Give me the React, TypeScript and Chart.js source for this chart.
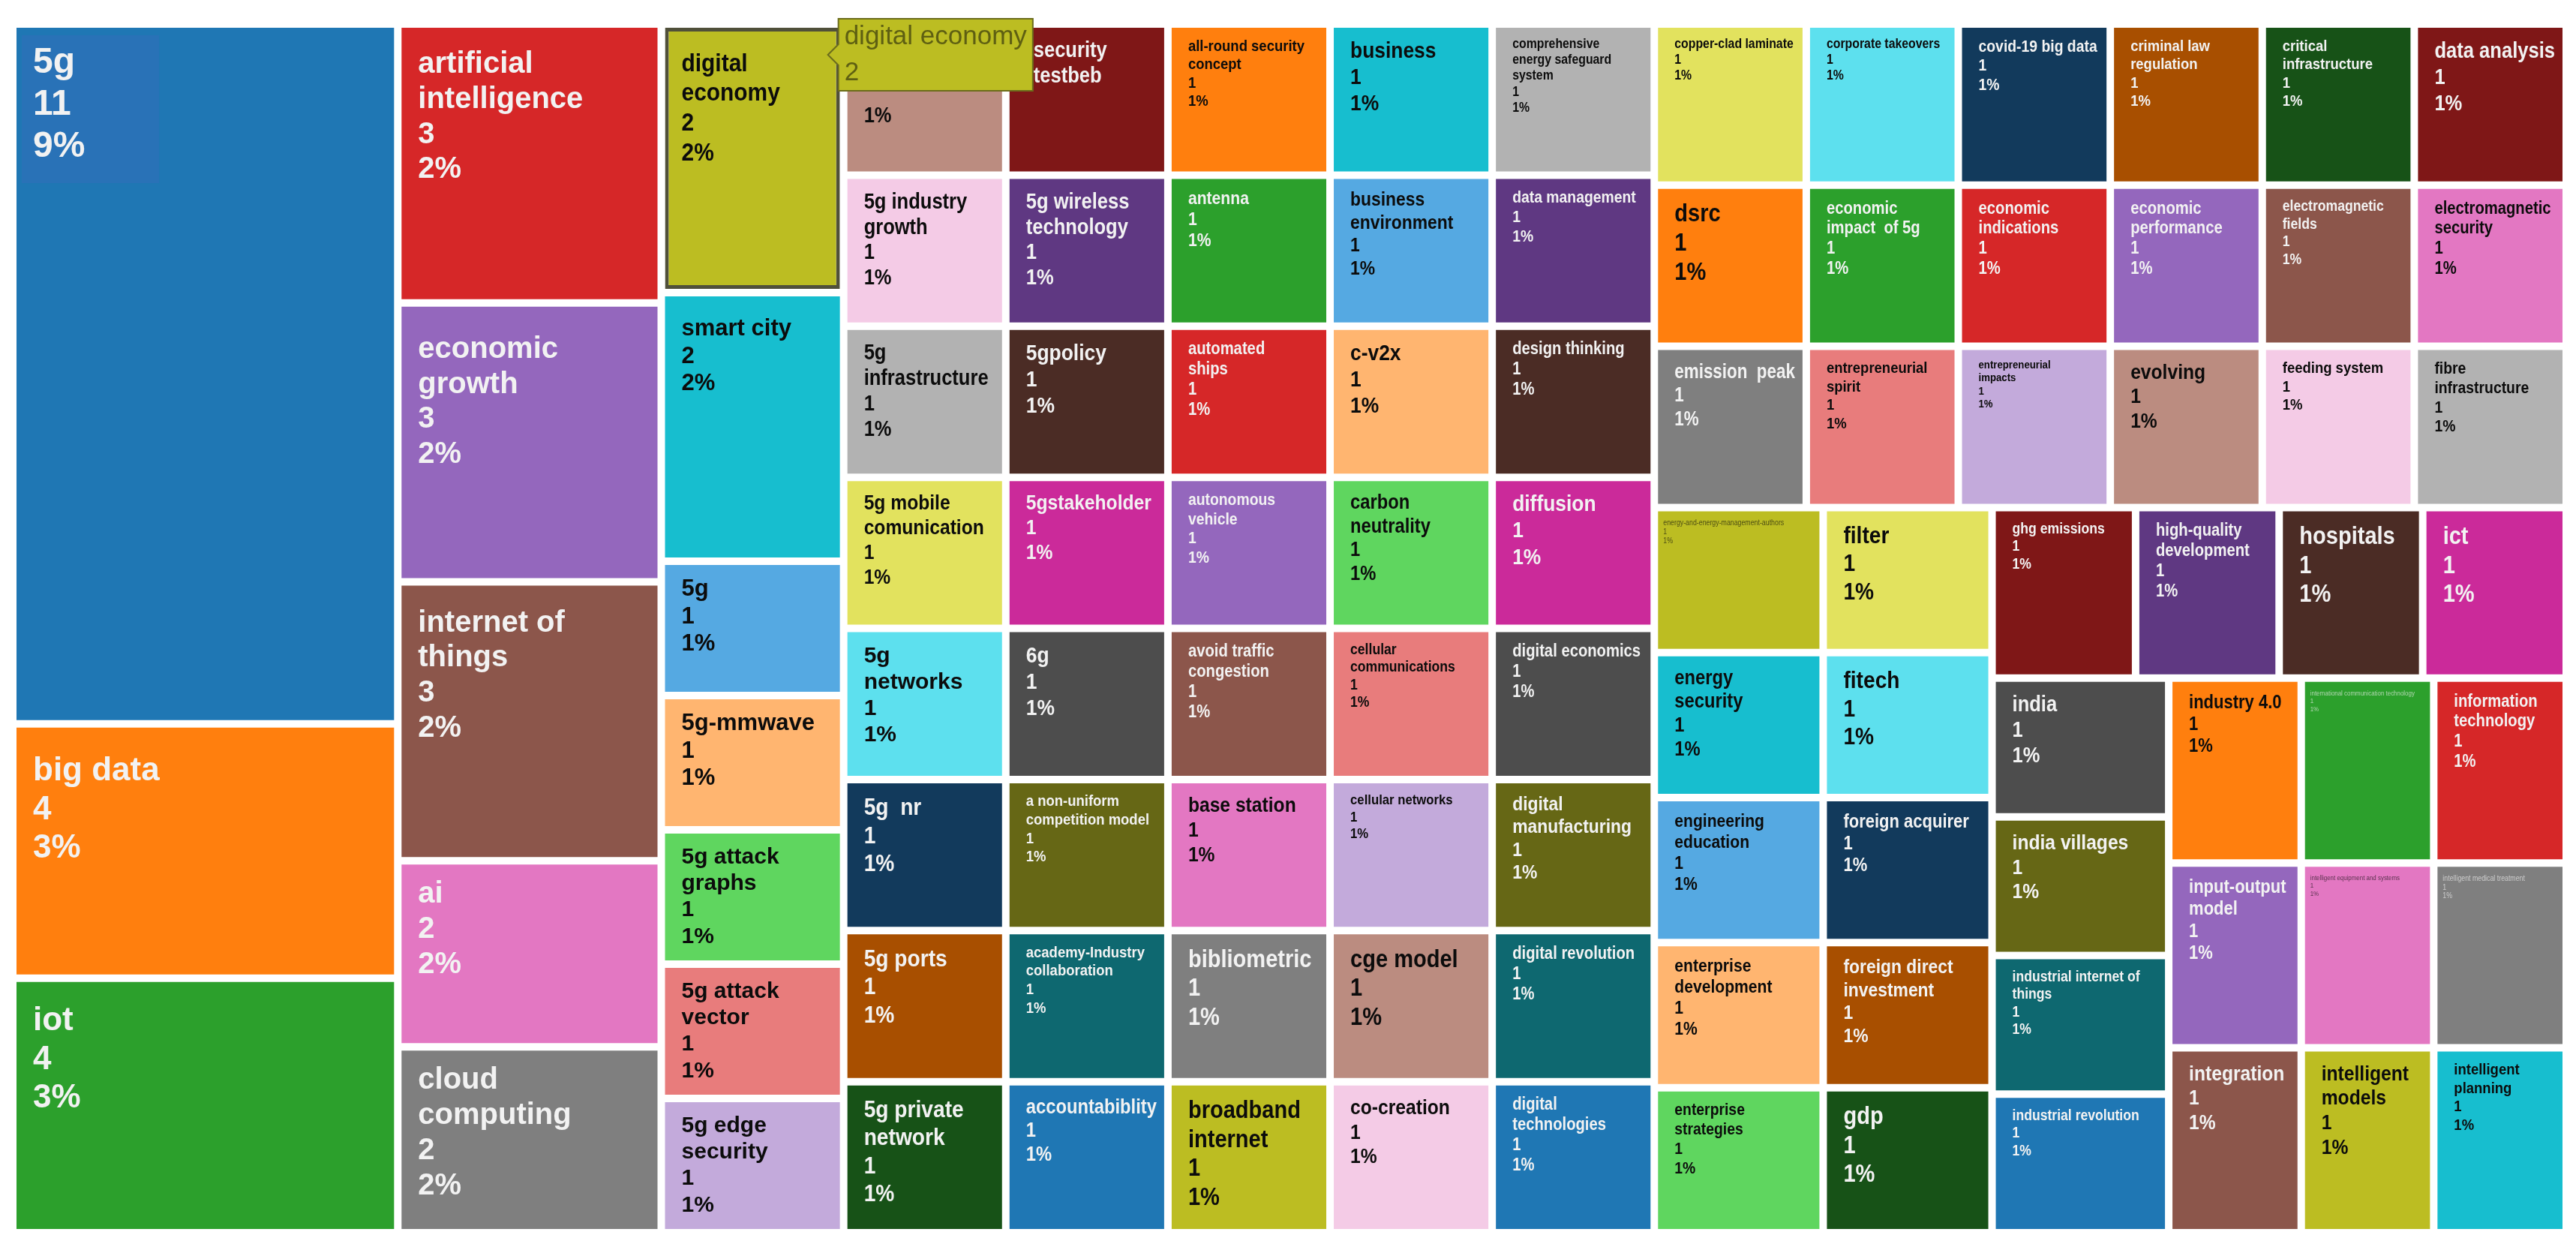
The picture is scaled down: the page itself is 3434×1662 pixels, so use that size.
import { useEffect, useRef } from "react";
import { Chart, DatasetController, Tooltip, registerables } from "chart.js";

// "\n" marks where the label breaks inside its cell
const categories = [
  "5g", "big data", "iot", "artificial\nintelligence", "economic\ngrowth", "internet of\nthings", "ai", "cloud\ncomputing",
  "digital\neconomy", "smart city", "5g", "5g-mmwave", "5g attack\ngraphs", "5g attack\nvector", "5g edge\nsecurity",
  "", "5g industry\ngrowth", "5g\ninfrastructure", "5g mobile\ncomunication", "5g\nnetworks", "5g  nr",
  "5g ports", "5g private\nnetwork", "security\ntestbeb", "5g wireless\ntechnology", "5gpolicy", "5gstakeholder", "6g",
  "a non-uniform\ncompetition model", "academy-Industry\ncollaboration", "accountabiblity", "all-round security\nconcept",
  "antenna", "automated\nships", "autonomous\nvehicle", "avoid traffic\ncongestion", "base station", "bibliometric",
  "broadband\ninternet", "business", "business\nenvironment", "c-v2x", "carbon\nneutrality", "cellular\ncommunications",
  "cellular networks", "cge model", "co-creation", "comprehensive\nenergy safeguard\nsystem", "copper-clad laminate",
  "corporate takeovers", "covid-19 big data", "criminal law\nregulation", "critical\ninfrastructure", "data analysis",
  "data management", "design thinking", "diffusion", "digital economics", "digital\nmanufacturing", "digital revolution",
  "digital\ntechnologies", "dsrc", "economic\nimpact  of 5g", "economic\nindications", "economic\nperformance",
  "electromagnetic\nfields", "electromagnetic\nsecurity", "emission  peak", "energy-and-energy-management-authors",
  "energy\nsecurity", "engineering\neducation", "enterprise\ndevelopment", "enterprise\nstrategies",
  "entrepreneurial\nspirit", "entrepreneurial\nimpacts", "evolving", "feeding system", "fibre\ninfrastructure", "filter",
  "fitech", "foreign acquirer", "foreign direct\ninvestment", "gdp", "ghg emissions", "high-quality\ndevelopment",
  "hospitals", "ict", "india", "india villages", "industrial internet of\nthings", "industrial revolution",
  "industry 4.0", "international communication technology", "information\ntechnology", "input-output\nmodel",
  "integration", "intelligent equipment and systems", "intelligent medical treatment", "intelligent\nmodels",
  "intelligent\nplanning",
];

const values = [
  11, 4, 4, 3, 3, 3, 2, 2, 2, 2,
  1, 1, 1, 1, 1, 1, 1, 1, 1, 1,
  1, 1, 1, 1, 1, 1, 1, 1, 1, 1,
  1, 1, 1, 1, 1, 1, 1, 1, 1, 1,
  1, 1, 1, 1, 1, 1, 1, 1, 1, 1,
  1, 1, 1, 1, 1, 1, 1, 1, 1, 1,
  1, 1, 1, 1, 1, 1, 1, 1, 1, 1,
  1, 1, 1, 1, 1, 1, 1, 1, 1, 1,
  1, 1, 1, 1, 1, 1, 1, 1, 1, 1,
  1, 1, 1, 1, 1, 1, 1, 1, 1, 1,
];

// how the treemap was sliced: each strip takes its share off the remaining space
const stripKinds = ["col", "col", "col", "col", "col", "col", "col", "col", "row", "row", "row", "col", "col", "row", "col", "row", "row", "row"];
const stripMembers = [
  [0, 1, 2],
  [3, 4, 5, 6, 7],
  [8, 9, 10, 11, 12, 13, 14],
  [15, 16, 17, 18, 19, 20, 21, 22],
  [23, 24, 25, 26, 27, 28, 29, 30],
  [31, 32, 33, 34, 35, 36, 37, 38],
  [39, 40, 41, 42, 43, 44, 45, 46],
  [47, 54, 55, 56, 57, 58, 59, 60],
  [48, 49, 50, 51, 52, 53],
  [61, 62, 63, 64, 65, 66],
  [67, 73, 74, 75, 76, 77],
  [68, 69, 70, 71, 72],
  [78, 79, 80, 81, 82],
  [83, 84, 85, 86],
  [87, 88, 89, 90],
  [91, 92, 93],
  [94, 96, 97],
  [95, 98, 99],
];

const palette = [
  "#1f77b4", "#ff7f0e", "#2ca02c", "#d62728", "#9467bd", "#8c564b", "#e377c2", "#7f7f7f", "#bcbd22", "#17becf",
  "#55a9e2", "#ffb570", "#5fd65f", "#e87c7c", "#c3aadb", "#bb8c80", "#f4cbe6", "#b2b2b2", "#e2e25e", "#5de0ee",
  "#123a5c", "#a84f00", "#175217", "#7f1717", "#5f3882", "#4b2c25", "#cb2a9a", "#4d4d4d", "#666715", "#0e6870",
];
const darkTextColors = [1, 6, 8, 9, 10, 11, 12, 13, 14, 15, 16, 17, 18, 19];
const whiteTextCells = [1, 6, 56, 86];

const labelSizes = [
  48, 44, 44, 40, 40, 40, 40, 40, 34, 31,
  31, 31, 30, 30, 30, 29, 29, 29, 28, 30,
  32, 32, 32, 29, 29, 30, 28, 30, 21, 21,
  27, 21, 24, 23, 22, 23, 28, 33, 33, 30,
  26, 30, 27, 20, 19, 33, 28, 18, 18, 18,
  22, 21, 21, 30, 22, 23, 30, 23, 26, 23,
  23, 33, 23, 23, 23, 20, 23, 27, 10, 27,
  24, 24, 22, 21, 15, 28, 21, 22, 32, 32,
  25, 26, 33, 20, 23, 33, 33, 29, 28, 20,
  20, 25, 9, 23, 25, 28, 9, 10, 28, 21,
];
// extra vertical shift of a label, cell index -> px
const labelNudges: Record<number, number> = { 1: 15, 2: 9, 3: 9, 4: 17, 5: 10, 8: 13, 9: 11, 15: 19 };
// labels drawn at full width, the rest are a little condensed
const fullWidthCells = [9, 10, 11, 12, 13, 14, 19];
// the tooltip hides these in the reference
const noValueLine = [15, 23];
const noPercentLine = [23];

const activeCategory = 8;
const FONT = "'Liberation Sans', Arial, sans-serif";
const cellGap = 10;

const total = values.reduce((a, b) => a + b, 0);
const names = categories.map((c) => c.replace(/\n/g, " "));

function sliceCells() {
  const cells: { x0: number; x1: number; y0: number; y1: number }[] = [];
  let left = 0;
  let top = 0;
  stripKinds.forEach((kind, s) => {
    const members = stripMembers[s];
    const sum = members.reduce((a, i) => a + values[i], 0);
    const w = total - left;
    const h = 1 - top;
    if (kind === "col") {
      const stripW = sum / h;
      let y = top;
      members.forEach((i) => {
        const cellH = values[i] / stripW;
        cells[i] = { x0: left, x1: left + stripW, y0: y, y1: y + cellH };
        y += cellH;
      });
      left += stripW;
    } else {
      const stripH = sum / w;
      let x = left;
      members.forEach((i) => {
        const cellW = values[i] / stripH;
        cells[i] = { x0: x, x1: x + cellW, y0: top, y1: top + stripH };
        x += cellW;
      });
      top += stripH;
    }
  });
  return cells;
}

class TreemapController extends DatasetController {
  static id = "treemapSlices";
  static defaults = { dataElementType: "bar", datasetElementType: false };

  parse(start: number, count: number) {
    const meta = (this as any)._cachedMeta;
    for (let i = start; i < start + count; i++) {
      meta._parsed[i] = { x: i, y: values[i] };
    }
  }

  getLabelAndValue(index: number) {
    return { label: names[index], value: String(values[index]) };
  }

  update(mode: any) {
    const meta = (this as any)._cachedMeta;
    const { xScale, yScale } = meta;
    const cells = sliceCells();
    meta.data.forEach((el: any, i: number) => {
      const left = xScale.getPixelForValue(cells[i].x0) + cellGap / 2;
      const right = xScale.getPixelForValue(cells[i].x1) - cellGap / 2;
      const top = yScale.getPixelForValue(cells[i].y0) + cellGap / 2;
      const bottom = yScale.getPixelForValue(cells[i].y1) - cellGap / 2;
      this.updateElement(
        el,
        i,
        {
          x: (left + right) / 2,
          y: top,
          base: bottom,
          width: right - left,
          height: bottom - top,
          horizontal: false,
          borderSkipped: {},
          inflateAmount: 0,
          options: this.resolveDataElementOptions(i, mode),
        } as any,
        mode,
      );
    });
  }

  draw() {
    super.draw();
    const ctx = (this as any)._ctx as CanvasRenderingContext2D;
    const meta = (this as any)._cachedMeta;
    ctx.save();
    // the faint patch behind the first label
    const first = meta.data[0];
    ctx.fillStyle = "rgba(70,100,190,0.25)";
    ctx.fillRect(first.x - first.width / 2 + 7, first.y + 10, 183, 197);

    ctx.textBaseline = "middle";
    meta.data.forEach((el: any, i: number) => {
      const size = labelSizes[i];
      const colorIdx = i % palette.length;
      const tiny = size <= 12;
      ctx.font = `${tiny ? "normal" : "bold"} ${size}px ${FONT}`;
      ctx.fillStyle = darkTextColors.includes(colorIdx) && !whiteTextCells.includes(i) ? "#0c0c0c" : "#f2f2f2";
      if (tiny) ctx.globalAlpha = 0.65;

      const lines = categories[i].split("\n");
      lines.push(noValueLine.includes(i) ? "" : String(values[i]));
      lines.push(noPercentLine.includes(i) ? "" : `${Math.round((values[i] / total) * 100)}%`);

      const padX = tiny ? 7 : i === 23 ? 32 : 22;
      const widest = Math.max(...lines.map((l) => ctx.measureText(l).width));
      const base = size >= 40 || fullWidthCells.includes(i) ? 1 : 0.88;
      const squeeze = Math.min(base, (el.width - padX - 10) / widest);
      const left = el.x - el.width / 2 + padX;
      const startY = el.y + 8 + 0.8 * size + (labelNudges[i] || 0);
      lines.forEach((line, k) => {
        ctx.save();
        ctx.translate(left, startY + k * size * 1.17);
        ctx.scale(squeeze, 1);
        ctx.fillText(line, 0, 0);
        ctx.restore();
      });
      ctx.globalAlpha = 1;
    });
    ctx.restore();
  }
}

(Tooltip.positioners as any).cellCorner = (items: any[]) => {
  const el = items[0]?.element;
  if (!el) return false;
  return { x: el.x + el.width / 2 - 16, y: el.y + 36 };
};

Chart.register(...registerables, TreemapController as any);

export default function App() {
  const canvasRef = useRef<HTMLCanvasElement>(null);

  useEffect(() => {
    if (!canvasRef.current) return;

    const chart = new Chart(canvasRef.current, {
      type: "treemapSlices" as any,
      data: {
        labels: names,
        datasets: [
          {
            data: values,
            clip: false,
            backgroundColor: categories.map((_, i) => palette[i % palette.length]),
            borderWidth: 0,
            borderSkipped: false,
            hoverBackgroundColor: categories.map((_, i) => palette[i % palette.length]),
            hoverBorderColor: "#50503a",
            hoverBorderWidth: 5,
          } as any,
        ],
      },
      options: {
        responsive: false,
        devicePixelRatio: 1,
        animation: false,
        events: [],
        layout: { padding: { left: 17, right: 13, top: 32, bottom: 19 } },
        scales: {
          x: { type: "linear", display: false, min: 0, max: total },
          y: { type: "linear", display: false, min: 0, max: 1, reverse: true },
        },
        plugins: {
          legend: { display: false },
          tooltip: {
            enabled: true,
            position: "cellCorner" as any,
            xAlign: "left",
            yAlign: "center",
            caretSize: 14,
            caretPadding: 0,
            cornerRadius: 0,
            displayColors: false,
            backgroundColor: "#bcbd22",
            borderColor: "#6b6c1c",
            borderWidth: 2,
            titleColor: "#5e5f12",
            bodyColor: "#5e5f12",
            titleFont: { family: FONT, size: 35, weight: "normal" },
            bodyFont: { family: FONT, size: 35, weight: "normal" },
            titleMarginBottom: 6,
            padding: { left: 8, right: 8, top: 3, bottom: 3 },
            callbacks: {
              label: (item: any) => item.formattedValue,
            },
          },
        },
      },
    });

    const active = [{ datasetIndex: 0, index: activeCategory }];
    chart.setActiveElements(active);
    chart.tooltip?.setActiveElements(active, { x: 0, y: 0 });
    chart.update();

    return () => {
      chart.destroy();
    };
  }, []);

  return (
    <div style={{ position: "absolute", left: 0, top: 0, width: 3434, height: 1662, background: "#fff" }}>
      <canvas ref={canvasRef} width={3434} height={1662} style={{ display: "block" }} />
    </div>
  );
}
